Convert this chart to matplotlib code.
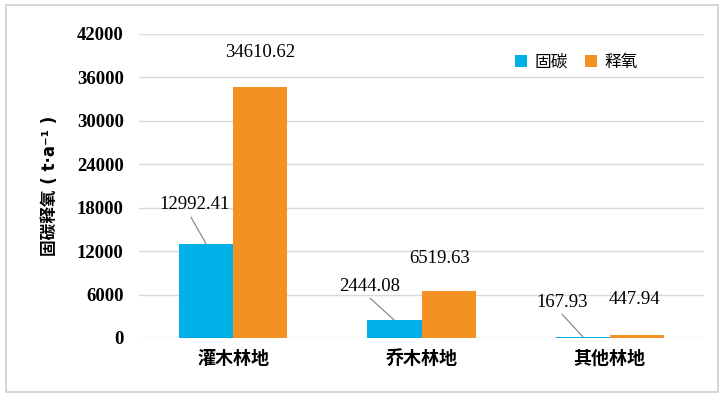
import matplotlib.pyplot as plt
import matplotlib.patches as patches
import numpy as np

categories = ["灌木林地", "乔木林地", "其他林地"]
carbon = [12992.41, 2444.08, 167.93]
oxygen = [34610.62, 6519.63, 447.94]
carbon_labels = ["12992.41", "2444.08", "167.93"]
oxygen_labels = ["34610.62", "6519.63", "447.94"]
yticks = [0, 6000, 12000, 18000, 24000, 30000, 36000, 42000]

blue = "#00B0E6"
orange = "#F39122"
cjk = ["Noto Sans CJK SC", "DejaVu Sans"]
serif = ["Liberation Serif", "DejaVu Serif"]

fig = plt.figure(figsize=(7.24, 3.99), dpi=100)
fig.patches.append(patches.Rectangle((6 / 724, 1 - 392 / 399), 712 / 724, 387 / 399,
                                     transform=fig.transFigure, fill=False,
                                     edgecolor="#d0d0d0", linewidth=1.2))
ax = fig.add_axes([139 / 724, 1 - 338 / 399, 565 / 724, 304 / 399])

x = np.arange(len(categories))
w = 0.287
ax.bar(x - w / 2, carbon, w, color=blue, label="固碳", zorder=3)
ax.bar(x + w / 2, oxygen, w, color=orange, label="释氧", zorder=3)

ax.set_xlim(-0.5, 2.5)
ax.set_ylim(0, 42000)
ax.set_yticks(yticks)
ax.set_yticklabels([str(t) for t in yticks], fontfamily=serif, fontweight="bold", fontsize=13.5)
ax.set_xticks(x)
ax.set_xticklabels(categories, fontfamily=cjk, fontweight="bold", fontsize=13)
ax.tick_params(length=0, pad=11)
ax.tick_params(axis="x", pad=8)
ax.grid(axis="y", color="#d9d9d9", linewidth=1, zorder=0)
for s in ax.spines.values():
    s.set_visible(False)

ax.set_ylabel("固碳释氧 ( t·a⁻¹ )", fontfamily=["DejaVu Sans", "Noto Sans CJK SC"],
              fontweight="bold", fontsize=12, labelpad=13)

# label positions (x in category units, y in data units)
ox_pos = [(0.142, 39500), (1.098, 11050), (2.128, 5250)]
for i in range(len(oxygen)):
    ax.text(ox_pos[i][0], ox_pos[i][1], oxygen_labels[i], ha="center", va="center",
            fontfamily=serif, fontsize=13.5)

c_pos = [(-0.203, 18400), (0.727, 7180), (1.746, 4970)]
c_line = [(-0.224, 16700), (0.727, 5500), (1.746, 3300)]
for i, v in enumerate(carbon):
    ax.text(c_pos[i][0], c_pos[i][1], carbon_labels[i], ha="center", va="center",
            fontfamily=serif, fontsize=13.5)
    ax.annotate("", xy=(x[i] - w / 2, v), xytext=c_line[i],
                arrowprops=dict(arrowstyle="-", color="#7f7f7f", lw=0.8,
                                shrinkA=0, shrinkB=0))

ax.legend(loc="upper right", bbox_to_anchor=(0.91, 0.985), ncol=2, frameon=False,
          prop={"family": cjk, "size": 12}, handlelength=0.7, handleheight=0.7,
          columnspacing=1.0, handletextpad=0.5)

fig.savefig("out.png", dpi=100)
